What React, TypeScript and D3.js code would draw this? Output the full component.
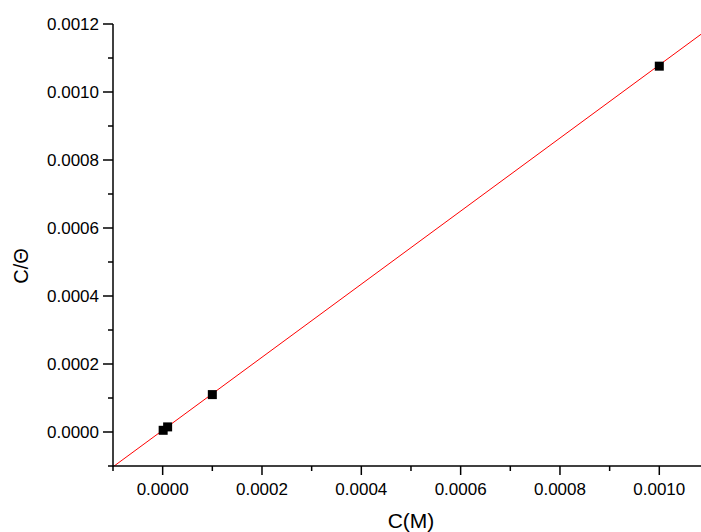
import React from "react";
import * as d3 from "d3";

const concentrations = [0.000001, 0.00001, 0.0001, 0.001];
const cOverTheta = [0.000005, 0.000015, 0.00011, 0.001076];
const fitSlope = 1.0745;
const fitIntercept = 0.000005;
const xMajorTicks = [0, 0.0002, 0.0004, 0.0006, 0.0008, 0.001];
const xMinorTicks = [-0.0001, 0.0001, 0.0003, 0.0005, 0.0007, 0.0009, 0.0011];
const yMajorTicks = [0, 0.0002, 0.0004, 0.0006, 0.0008, 0.001, 0.0012];
const yMinorTicks = [-0.0001, 0.0001, 0.0003, 0.0005, 0.0007, 0.0009, 0.0011];
const xTitle = "C(M)";
const yTitle = "C/Θ";

const W = 701;
const H = 532;

export default function App() {
  const x = d3.scaleLinear().domain([-0.0001, 0.0011]).range([113, 659.3 + 49.66]);
  const y = d3.scaleLinear().domain([-0.0001, 0.0012]).range([466, 24]);
  const fmt = d3.format(".4f");
  const font = "'Liberation Sans', Arial, sans-serif";
  const fitX = [-0.0001, 0.0011];
  const line = d3
    .line<number>()
    .x((d) => x(d))
    .y((d) => y(fitSlope * d + fitIntercept));
  const [x0, x1] = x.range();
  const [y0, y1] = y.range();
  return (
    <svg
      width={W}
      height={H}
      style={{ position: "absolute", left: 0, top: 0, background: "#fff" }}
    >
      <defs>
        <clipPath id="plot">
          <rect x={x0} y={y1} width={x1 - x0} height={y0 - y1} />
        </clipPath>
      </defs>
      <rect x={0} y={0} width={W} height={H} fill="#fff" />
      {/* fit line */}
      <path
        d={line(fitX) || ""}
        stroke="#ff0000"
        strokeWidth={1}
        fill="none"
        clipPath="url(#plot)"
      />
      {/* points */}
      {concentrations.map((c, i) => (
        <rect
          key={i}
          x={x(c) - 4.5}
          y={y(cOverTheta[i]) - 4.5}
          width={9}
          height={9}
          fill="#000"
        />
      ))}
      {/* axes */}
      <line x1={x0} x2={x1} y1={y0} y2={y0} stroke="#000" strokeWidth={1.5} />
      <line x1={x0} x2={x0} y1={y0 + 0.75} y2={y1} stroke="#000" strokeWidth={1.5} />
      {xMajorTicks.map((t) => (
        <g key={"xm" + t}>
          <line x1={x(t)} x2={x(t)} y1={y0} y2={y0 + 9} stroke="#000" strokeWidth={1.5} />
          <text
            x={x(t)}
            y={495}
            textAnchor="middle"
            fontFamily={font}
            fontSize={17}
            fill="#000"
          >
            {fmt(t)}
          </text>
        </g>
      ))}
      {xMinorTicks.map((t) => (
        <line key={"xn" + t} x1={x(t)} x2={x(t)} y1={y0} y2={y0 + 5} stroke="#000" strokeWidth={1.5} />
      ))}
      {yMajorTicks.map((t) => (
        <g key={"ym" + t}>
          <line x1={x0} x2={x0 - 10} y1={y(t)} y2={y(t)} stroke="#000" strokeWidth={1.5} />
          <text
            x={99}
            y={y(t)}
            dy="0.36em"
            textAnchor="end"
            fontFamily={font}
            fontSize={17}
            fill="#000"
          >
            {fmt(t)}
          </text>
        </g>
      ))}
      {yMinorTicks.map((t) => (
        <line key={"yn" + t} x1={x0} x2={x0 - 5} y1={y(t)} y2={y(t)} stroke="#000" strokeWidth={1.5} />
      ))}
      <text
        x={411}
        y={528}
        textAnchor="middle"
        fontFamily={font}
        fontSize={21}
        fill="#000"
      >
        {xTitle}
      </text>
      <text
        transform="translate(28,266) rotate(-90)"
        textAnchor="middle"
        fontFamily={font}
        fontSize={20}
        fill="#000"
      >
        {yTitle}
      </text>
    </svg>
  );
}
